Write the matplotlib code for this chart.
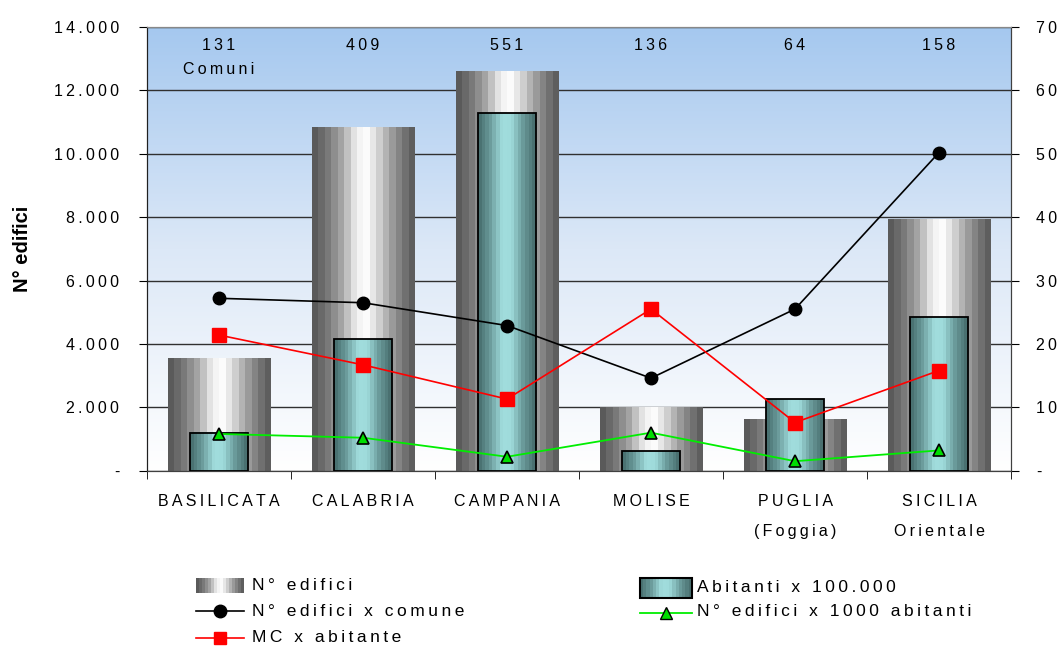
import numpy as np
import matplotlib
matplotlib.use('Agg')
import matplotlib.pyplot as plt
from matplotlib.colors import LinearSegmentedColormap
from matplotlib.lines import Line2D

plt.rcParams['font.family'] = ['Liberation Sans', 'DejaVu Sans']

# Data
regioni = ['BASILICATA', 'CALABRIA', 'CAMPANIA', 'MOLISE', 'PUGLIA\n(Foggia)', 'SICILIA\nOrientale']
comuni = ['131\nComuni', '409', '551', '136', '64', '158']
n_edifici = [3565, 10840, 12600, 1990, 1630, 7940]
abitanti_100k = [6.0, 20.8, 56.4, 3.1, 11.3, 24.2]
edifici_comune = [27.2, 26.5, 22.9, 14.6, 25.5, 50.2]
mc_abitante = [21.4, 16.7, 11.3, 25.5, 7.6, 15.8]
edifici_1000ab = [5.8, 5.2, 2.2, 6.0, 1.5, 3.2]


def sp(s):
    # wide letter spacing like the original
    return '\n'.join('\u2009'.join(line) for line in s.split('\n'))


grey_cm = LinearSegmentedColormap.from_list('cyl', [
    (0.0, '#5a5a5a'), (0.12, '#757575'), (0.28, '#a8a8a8'), (0.42, '#ececec'),
    (0.52, '#ffffff'), (0.62, '#e2e2e2'), (0.76, '#a8a8a8'), (0.9, '#7a7a7a'),
    (1.0, '#5e5e5e')])
teal_cm = LinearSegmentedColormap.from_list('teal', [
    (0.0, '#4a7272'), (0.2, '#6c9c9c'), (0.42, '#a2dede'), (0.58, '#9edada'),
    (0.8, '#6a9a9a'), (1.0, '#4a7070')])
bands = np.linspace(0, 1, 16).reshape(1, -1)

fig = plt.figure(figsize=(10.59, 6.48), dpi=100)
ax = fig.add_axes([147/1059, 1-470.7/648, 864/1059, 443.7/648])
ax2 = ax.twinx()

x = np.arange(len(regioni))
ax.set_xlim(-0.5, len(regioni)-0.5)
ax.set_ylim(0, 14000)
ax2.set_ylim(0, 70)

# background gradient
bg = LinearSegmentedColormap.from_list('bg', ['#ffffff', '#dce8f7', '#a5c8ef'])
ax.imshow(np.linspace(0, 1, 256).reshape(-1, 1), cmap=bg, origin='lower',
          extent=[-0.5, len(regioni)-0.5, 0, 14000], aspect='auto', zorder=0)

ax.set_yticks(np.arange(0, 14001, 2000))
ax.set_yticklabels(['-'] + [sp('{:,}'.format(v).replace(',', '.')) for v in range(2000, 14001, 2000)])
ax.grid(axis='y', color='#303030', lw=1.0)
ax.set_axisbelow(True)

# outer cylinder bars: N° edifici
wo = 0.715
for xi, h in zip(x, n_edifici):
    ax.imshow(bands, cmap=grey_cm, interpolation='nearest', aspect='auto',
              extent=[xi-wo/2, xi+wo/2, 0, h], zorder=2)

# inner bars: Abitanti x 100.000 (right scale)
wi = 0.40
for xi, h in zip(x, abitanti_100k):
    ax2.imshow(bands, cmap=teal_cm, interpolation='nearest', aspect='auto',
               extent=[xi-wi/2, xi+wi/2, 0, h], zorder=2)
ax2.bar(x, abitanti_100k, width=wi, fill=False, edgecolor='black', lw=1.3, zorder=3)

ax2.plot(x, edifici_comune, color='black', lw=1.2, marker='o', ms=9, zorder=5)
ax2.plot(x, mc_abitante, color='#ff0000', lw=1.2, marker='s', ms=9.5, zorder=5)
ax2.plot(x, edifici_1000ab, color='#00ee00', lw=1.3, marker='^', ms=9,
         mfc='#00dd00', mec='black', mew=1.2, zorder=6)

ax2.set_xlim(-0.5, len(regioni)-0.5)
ax2.set_ylim(0, 70)
ax2.set_yticks(np.arange(0, 71, 10))
ax2.set_yticklabels(['-'] + [sp(str(v)) for v in range(10, 71, 10)])

for xi, t in zip(x, comuni):
    ax.text(xi, 13650, sp(t), ha='center', va='top', fontsize=11.5, linespacing=1.75, zorder=7)

ax.set_xticks(x)
ax.set_xticklabels([sp(r) for r in regioni], fontsize=11.5, linespacing=2.2)
ax.set_xticks(np.arange(-0.5, len(regioni)), minor=True)
ax.tick_params(axis='x', which='major', length=0, pad=17)
ax.tick_params(axis='x', which='minor', length=6, direction='out')
ax.tick_params(axis='y', length=6, labelsize=11.5, pad=14)
ax2.tick_params(axis='y', length=6, labelsize=11.5, pad=12)

ax.set_ylabel('N° edifici', fontsize=14.5, fontweight='bold')
ax.yaxis.set_label_coords(-0.133, 0.5)

for a in (ax, ax2):
    a.spines['top'].set_color('#888888')
    a.spines['left'].set_color('#202020')
    a.spines['right'].set_color('#404040')
    a.spines['bottom'].set_color('#404040')

# legend drawn in pixel space
lg = fig.add_axes([0, 0, 1, 1], zorder=10)
lg.set_xlim(0, 1059)
lg.set_ylim(648, 0)
lg.axis('off')
lg.patch.set_alpha(0)
lg.imshow(bands, cmap=grey_cm, interpolation='nearest', aspect='auto', extent=[196, 244, 593, 578])
lg.text(252, 585, sp('N° edifici'), va='center', fontsize=12.5)
lg.imshow(bands, cmap=teal_cm, interpolation='nearest', aspect='auto', extent=[640, 692, 598, 578])
lg.add_patch(plt.Rectangle((640, 578), 52, 20, fill=False, ec='black', lw=1.5))
lg.text(697, 587, sp('Abitanti x 100.000'), va='center', fontsize=12.5)
lg.add_line(Line2D([196, 220, 244], [611, 611, 611], color='black', lw=1.2, marker='o', ms=9, markevery=[1]))
lg.text(252, 611, sp('N° edifici x comune'), va='center', fontsize=12.5)
lg.add_line(Line2D([640, 666, 692], [613, 613, 613], color='#00ee00', lw=1.3, marker='^', ms=9,
                   mfc='#00dd00', mec='black', markevery=[1]))
lg.text(697, 611, sp('N° edifici x 1000 abitanti'), va='center', fontsize=12.5)
lg.add_line(Line2D([196, 220, 244], [638, 638, 638], color='#ff0000', lw=1.2, marker='s', ms=9, markevery=[1]))
lg.text(252, 638, sp('MC x abitante'), va='center', fontsize=12.5)

fig.savefig('out.png', dpi=100)
